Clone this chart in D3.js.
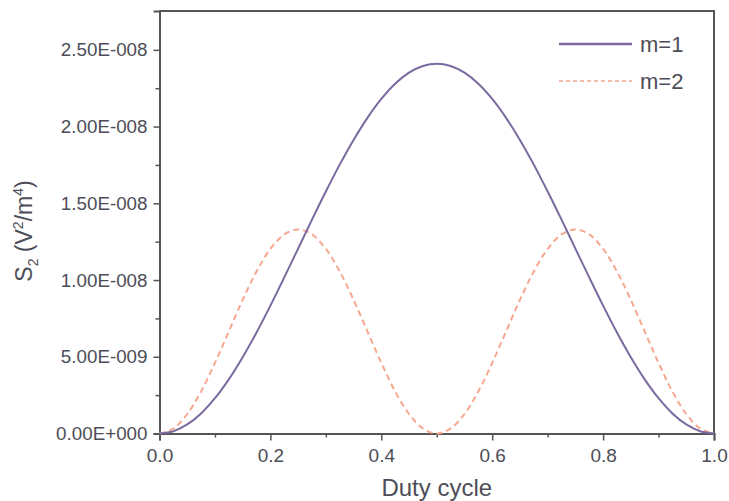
<!DOCTYPE html>
<html>
<head>
<meta charset="utf-8">
<script src="https://cdn.jsdelivr.net/npm/d3@7"></script>
<style>
  html, body { margin: 0; padding: 0; background: #fff; }
  svg { display: block; font-family: "Liberation Sans", Arial, sans-serif; }
</style>
</head>
<body>
<svg id="chart" width="729" height="501"></svg>
<script>
// Duty cycle sample points (0 to 1, step 0.025)
const duty = [
  0, 0.025, 0.05, 0.075, 0.1, 0.125, 0.15, 0.175, 0.2, 0.225,
  0.25, 0.275, 0.3, 0.325, 0.35, 0.375, 0.4, 0.425, 0.45, 0.475,
  0.5, 0.525, 0.55, 0.575, 0.6, 0.625, 0.65, 0.675, 0.7, 0.725,
  0.75, 0.775, 0.8, 0.825, 0.85, 0.875, 0.9, 0.925, 0.95, 0.975, 1
];

// S2 for m = 1 (V^2/m^4)
const s2m1 = [
  0, 1.48e-10, 5.90e-10, 1.31e-9, 2.30e-9, 3.53e-9, 4.97e-9, 6.58e-9, 8.33e-9, 1.017e-8,
  1.205e-8, 1.394e-8, 1.577e-8, 1.752e-8, 1.913e-8, 2.057e-8, 2.180e-8, 2.279e-8, 2.351e-8, 2.395e-8,
  2.410e-8, 2.395e-8, 2.351e-8, 2.279e-8, 2.180e-8, 2.057e-8, 1.913e-8, 1.752e-8, 1.577e-8, 1.394e-8,
  1.205e-8, 1.017e-8, 8.33e-9, 6.58e-9, 4.97e-9, 3.53e-9, 2.30e-9, 1.31e-9, 5.90e-10, 1.48e-10, 0
];

// S2 for m = 2 (V^2/m^4)
const s2m2 = [
  0, 3.25e-10, 1.27e-9, 2.74e-9, 4.60e-9, 6.65e-9, 8.71e-9, 1.056e-8, 1.203e-8, 1.297e-8,
  1.330e-8, 1.297e-8, 1.203e-8, 1.056e-8, 8.71e-9, 6.65e-9, 4.60e-9, 2.74e-9, 1.27e-9, 3.25e-10,
  0, 3.25e-10, 1.27e-9, 2.74e-9, 4.60e-9, 6.65e-9, 8.71e-9, 1.056e-8, 1.203e-8, 1.297e-8,
  1.330e-8, 1.297e-8, 1.203e-8, 1.056e-8, 8.71e-9, 6.65e-9, 4.60e-9, 2.74e-9, 1.27e-9, 3.25e-10, 0
];

const xTicks = [0, 0.2, 0.4, 0.6, 0.8, 1.0];
const xMinorTicks = [0.1, 0.3, 0.5, 0.7, 0.9];
const yTicks = [0, 5e-9, 1e-8, 1.5e-8, 2e-8, 2.5e-8];
const yTickLabels = ["0.00E+000", "5.00E-009", "1.00E-008", "1.50E-008", "2.00E-008", "2.50E-008"];
const yMinorTicks = [2.5e-9, 7.5e-9, 1.25e-8, 1.75e-8, 2.25e-8];

const seriesNames = ["m=1", "m=2"];
const seriesColors = ["#7a6aa0", "#f6a88e"];

const svg = d3.select("#chart");
const plotLeft = 159.5, plotRight = 714, plotTop = 11, plotBottom = 433.5;

const x = d3.scaleLinear().domain([0, 1]).range([plotLeft, plotRight]);
const y = d3.scaleLinear().domain([0, 2.753e-8]).range([plotBottom, plotTop]);

const axisColor = "#555";
const labelColor = "#4d4d57";

// plot frame (top and right sides)
svg.append("path")
  .attr("d", `M${plotLeft},${plotTop}H${plotRight}V${plotBottom}`)
  .attr("fill", "none").attr("stroke", axisColor).attr("stroke-width", 2);

// x axis
const gx = svg.append("g").attr("transform", `translate(0,${plotBottom})`)
  .call(d3.axisBottom(x).tickValues(xTicks).tickFormat(d3.format(".1f")).tickSize(7).tickPadding(8));
gx.append("g").call(d3.axisBottom(x).tickValues(xMinorTicks).tickFormat("").tickSize(4))
  .select(".domain").remove();

// y axis
const gy = svg.append("g").attr("transform", `translate(${plotLeft},0)`)
  .call(d3.axisLeft(y).tickValues(yTicks).tickFormat((d, i) => yTickLabels[i]).tickSize(6).tickPadding(6));
gy.append("g").call(d3.axisLeft(y).tickValues(yMinorTicks).tickFormat("").tickSize(4))
  .select(".domain").remove();

[gx, gy].forEach(g => {
  g.selectAll(".domain").attr("stroke", axisColor).attr("stroke-width", 2);
  g.selectAll(".tick line").attr("stroke", axisColor).attr("stroke-width", 1.5);
  g.selectAll(".tick text").attr("fill", labelColor).style("font-size", "18.8px");
});
gx.selectAll(".tick text").style("font-size", "19px");

// axis titles
svg.append("text")
  .attr("x", (plotLeft + plotRight) / 2).attr("y", 496)
  .attr("text-anchor", "middle").attr("fill", labelColor)
  .style("font-size", "24px").text("Duty cycle");

const yt = svg.append("text")
  .attr("transform", `translate(32,231) rotate(-90)`)
  .attr("text-anchor", "middle").attr("fill", labelColor)
  .style("font-size", "23px");
yt.append("tspan").text("S");
yt.append("tspan").attr("dy", 6).style("font-size", "14px").text("2");
yt.append("tspan").attr("dy", -6).text(" (V");
yt.append("tspan").attr("dy", -9).style("font-size", "14px").text("2");
yt.append("tspan").attr("dy", 9).text("/m");
yt.append("tspan").attr("dy", -9).style("font-size", "14px").text("4");
yt.append("tspan").attr("dy", 9).text(")");

// curves
const line = d3.line().curve(d3.curveCatmullRom.alpha(0.5))
  .x(d => x(d[0])).y(d => y(d[1]));

svg.append("path")
  .datum(duty.map((d, i) => [d, s2m2[i]]))
  .attr("d", line).attr("fill", "none")
  .attr("stroke", seriesColors[1]).attr("stroke-width", 2)
  .attr("stroke-dasharray", "6,4");

svg.append("path")
  .datum(duty.map((d, i) => [d, s2m1[i]]))
  .attr("d", line).attr("fill", "none")
  .attr("stroke", seriesColors[0]).attr("stroke-width", 2);

// legend
const legend = svg.append("g");
seriesNames.forEach((name, i) => {
  const ly = 44 + i * 37;
  legend.append("line")
    .attr("x1", 559).attr("x2", 632).attr("y1", ly).attr("y2", ly)
    .attr("stroke", seriesColors[i]).attr("stroke-width", i === 0 ? 2.5 : 1.3)
    .attr("stroke-dasharray", i === 0 ? null : "4,3");
  legend.append("text")
    .attr("x", 640).attr("y", ly + 8)
    .attr("fill", labelColor).style("font-size", "22px").text(name);
});
</script>
</body>
</html>
